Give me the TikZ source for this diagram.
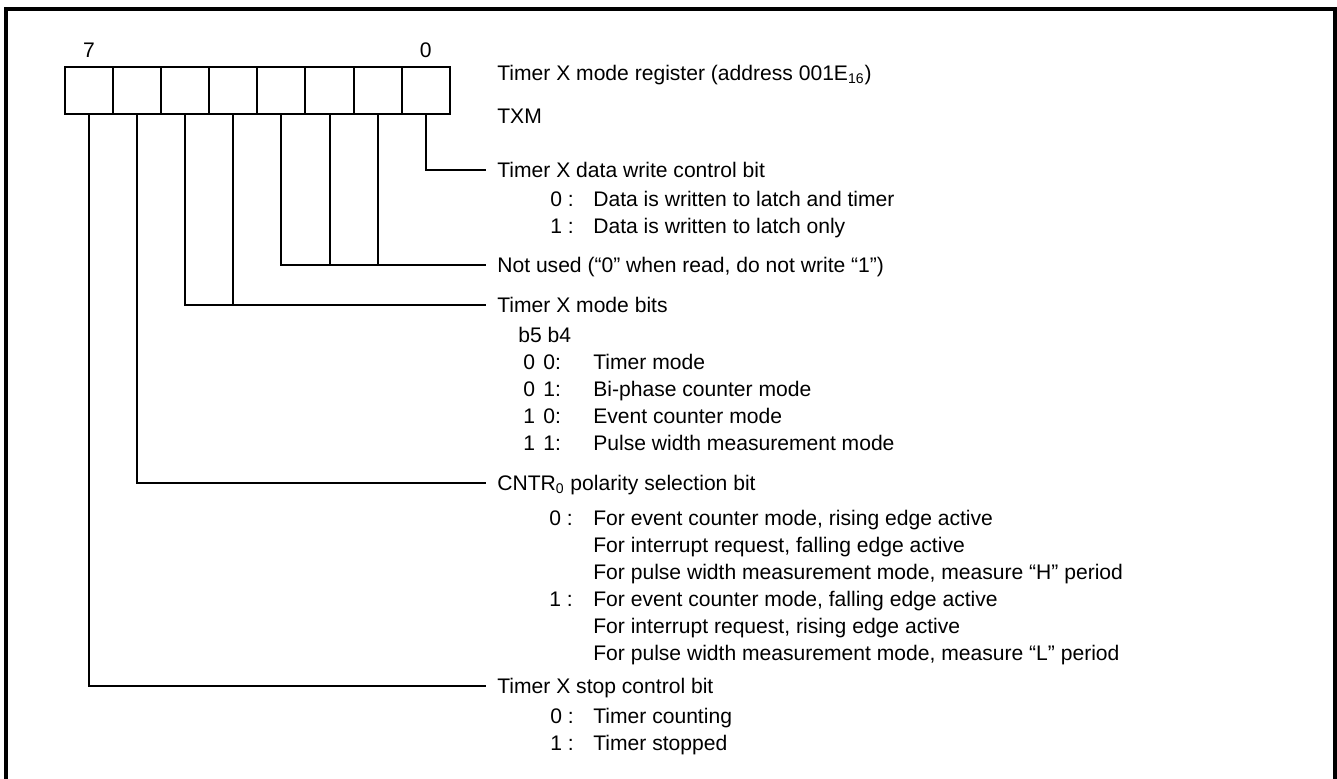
\documentclass[tikz,border=0pt]{standalone}
\usepackage{fontspec}
\setmainfont{Liberation Sans}
\usepackage{array}
\usetikzlibrary{positioning, calc}

\begin{document}
\begin{tikzpicture}[x=0.02cm, y=-0.02cm, node distance=0pt,
    font=\fontsize{12}{15.4}\selectfont,
    cell/.style={draw, rectangle, line width=0.04cm, minimum width=0.962cm, minimum height=0.95cm, outer sep=0pt},
    field/.style={anchor=west, inner xsep=0.22cm, inner ysep=0pt, text height=0.3cm, text depth=0pt},
    vals/.style={anchor=base west, inner sep=0pt},
    wire/.style={line width=0.04cm}]
    \useasboundingbox (0,0) rectangle (1337,778);
    \draw[line width=0.08cm] (6,800) -- (6,9) -- (1334.7,9) -- (1334.7,800);

    % the register, bit 7 on the left
    \node[cell] (b7) at (89.06,90.3) {};
    \foreach \i [remember=\i as \j (initially 7)] in {6,...,0}
        \node[cell, right=of b\j] (b\i) {};
    \node[inner sep=0pt, above=0.17cm of b7] (n7) {7};
    \node[inner sep=0pt, above=0.17cm of b0] (n0) {0};

    \node[field] (hdr) at (486,72.5) {Timer X mode register (address 001E\textsubscript{16})};
    \node[field] (txm) at (486,115.5) {TXM};

    \node[field] (wr) at (486,169.5) {Timer X data write control bit};
    \node[vals] (wrv) at (550,206) {\begin{tabular}[t]{@{}p{0.86cm}@{}l@{}}
        0 : & Data is written to latch and timer\\
        1 : & Data is written to latch only
    \end{tabular}};

    \node[field] (nu) at (486,264.5) {Not used (“0” when read, do not write “1”)};

    \node[field] (md) at (486,304.5) {Timer X mode bits};
    \node[vals] (mdv) at (523,342) {\begin{tabular}[t]{@{}p{0.4cm}@{}p{1cm}@{}l@{}}
        \multicolumn{3}{@{\hspace{-0.1cm}}l@{}}{b5 b4}\\
        0 & 0: & Timer mode\\
        0 & 1: & Bi-phase counter mode\\
        1 & 0: & Event counter mode\\
        1 & 1: & Pulse width measurement mode
    \end{tabular}};

    \node[field] (cp) at (486,482.5) {CNTR\textsubscript{0} polarity selection bit};
    \node[vals] (cpv) at (549,525) {\begin{tabular}[t]{@{}p{0.88cm}@{}l@{}}
        0 : & For event counter mode, rising edge active\\
            & For interrupt request, falling edge active\\
            & For pulse width measurement mode, measure “H” period\\
        1 : & For event counter mode, falling edge active\\
            & For interrupt request, rising edge active\\
            & For pulse width measurement mode, measure “L” period
    \end{tabular}};

    \node[field] (sp) at (486,685.5) {Timer X stop control bit};
    \node[vals] (spv) at (550,723) {\begin{tabular}[t]{@{}p{0.86cm}@{}l@{}}
        0 : & Timer counting\\
        1 : & Timer stopped
    \end{tabular}};

    % leaders from the bits to their fields
    \draw[wire] (b0.south) |- (wr.west);
    \draw[wire] (b3.south) |- (nu.west);
    \foreach \i in {2,1}
        \draw[wire] (b\i.south) -- (b\i.south |- nu.west);
    \draw[wire] (b5.south) |- (md.west);
    \draw[wire] (b4.south) -- (b4.south |- md.west);
    \draw[wire] (b6.south) |- (cp.west);
    \draw[wire] (b7.south) |- (sp.west);
\end{tikzpicture}
\end{document}
